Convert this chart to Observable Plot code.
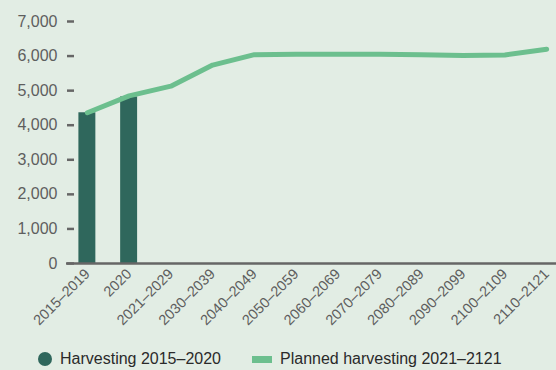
<!DOCTYPE html>
<html><head><meta charset="utf-8">
<script src="https://cdn.jsdelivr.net/npm/d3@7"></script>
<script src="https://cdn.jsdelivr.net/npm/@observablehq/plot@0.6"></script>
<style>
html,body{margin:0;padding:0;background:#e2ede4;overflow:hidden;width:556px;height:370px;}
#chart svg{display:block;overflow:visible}
.legend{height:22px;display:flex;align-items:center;padding-left:38px;font-family:"Liberation Sans",Arial,sans-serif;font-size:16px;color:#2a2a2a;white-space:nowrap}
.sw-dot{width:14px;height:14px;border-radius:50%;background:#2f675c;margin-right:8px}
.sw-bar{width:20px;height:7px;background:#6cbf8e;margin-left:31px;margin-right:8px}
</style></head><body>
<div id="chart"></div>
<div class="legend"><span class="sw-dot"></span><span>Harvesting 2015–2020</span><span class="sw-bar"></span><span>Planned harvesting 2021–2121</span></div>
<script>
const categories = ["2015–2019","2020","2021–2029","2030–2039","2040–2049","2050–2059","2060–2069","2070–2079","2080–2089","2090–2099","2100–2109","2110–2121"];
const harvestCategories = ["2015–2019","2020"];
const harvestValues = [4360, 4820];
const plannedValues = [4360, 4850, 5130, 5740, 6040, 6050, 6050, 6050, 6040, 6020, 6030, 6200];
const yTicks = [0,1000,2000,3000,4000,5000,6000,7000];

const harvest = harvestCategories.map((c,i)=>({period:c, value:harvestValues[i]}));
const planned = categories.map((c,i)=>({period:c, value:plannedValues[i]}));

const chart = Plot.plot({
  width:556, height:348,
  marginLeft:66, marginRight:-11, marginTop:21, marginBottom:85,
  style:{background:"transparent", fontFamily:"'Liberation Sans', Arial, sans-serif", color:"#5e5e5e", overflow:"visible"},
  x:{type:"band", domain:categories, padding:0, round:false},
  y:{domain:[0,7000]},
  marks:[
    Plot.barY(harvest, {x:"period", y:"value", fill:"#2f675c", insetLeft:12.4, insetRight:12.4}),
    Plot.ruleY([0], {stroke:"#666", strokeWidth:2.5}),
    Plot.line(planned, {x:"period", y:"value", stroke:"#6cbf8e", strokeWidth:5, strokeLinecap:"round", strokeLinejoin:"round"}),
    Plot.axisY(yTicks, {tickSize:0, tickPadding:9, tickFormat:d3.format(","), fontSize:16, label:null}),
    Plot.axisY(yTicks, {tickSize:7, dx:8, tickFormat:()=>"", stroke:"#666", strokeWidth:2.5, label:null}),
    Plot.axisX({tickSize:0, tickRotate:-45, tickPadding:8, fontSize:14.5, label:null})
  ]
});
document.getElementById("chart").append(chart);
</script>
</body></html>
